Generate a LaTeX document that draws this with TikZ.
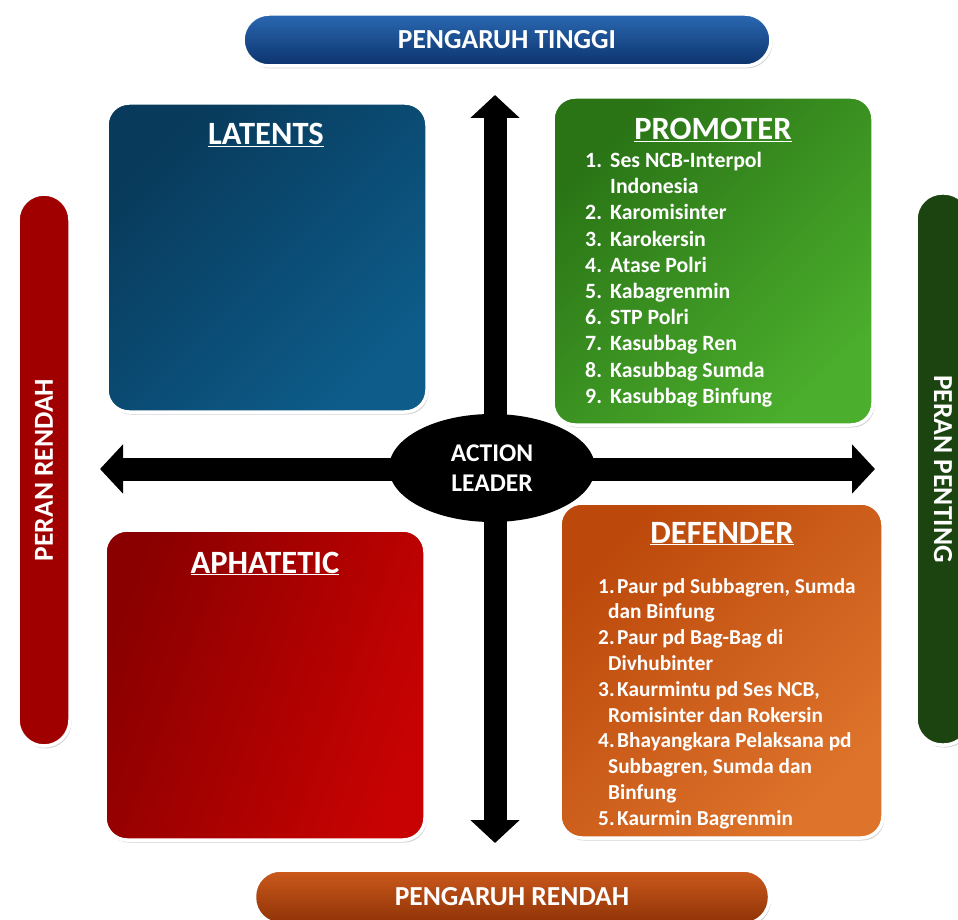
\documentclass[tikz,border=0pt]{standalone}
\usepackage{fontspec}
\setmainfont{Carlito}
\usetikzlibrary{arrows.meta,shapes.geometric,shadows}
\definecolor{latA}{HTML}{083A5B}
\definecolor{latB}{HTML}{0D5C8A}
\definecolor{proA}{HTML}{2A7416}
\definecolor{proB}{HTML}{4BAE2C}
\definecolor{aphA}{HTML}{8A0000}
\definecolor{aphB}{HTML}{C80202}
\definecolor{defA}{HTML}{BC490B}
\definecolor{defB}{HTML}{DE742C}
\definecolor{tinA}{HTML}{2A68B2}
\definecolor{tinM}{HTML}{1A4F98}
\definecolor{tinB}{HTML}{0C336C}
\definecolor{renA}{HTML}{CC5A1C}
\definecolor{renM}{HTML}{B44610}
\definecolor{renB}{HTML}{8E3206}
\definecolor{prA}{HTML}{A00000}
\definecolor{prM}{HTML}{C80E0E}
\definecolor{ppA}{HTML}{1B4410}
\definecolor{ppM}{HTML}{2E6420}
\begin{document}
\begin{tikzpicture}[x=1pt,y=-1pt,
  quad/.style={rectangle, rounded corners=22pt, draw=white, line width=3.5pt,
    drop shadow={shadow xshift=1.5pt,shadow yshift=-2.5pt,opacity=0.35}},
  pill/.style={rectangle, rounded corners=26pt, draw=white, line width=3.5pt,
    text=white, inner sep=0pt,
    drop shadow={shadow xshift=1.5pt,shadow yshift=-2.5pt,opacity=0.35}},
  pilltext/.style={font=\fontsize{27.5}{30}\selectfont\bfseries},
  ttl/.style={text=white, anchor=base, inner sep=0pt,
    font=\fontsize{32.5}{36}\selectfont\bfseries},
  lst/.style={text=white, anchor=north west, inner sep=0pt, align=left},
  bigarrow/.style={line width=23pt,
    {Triangle[length=23pt,width=48pt]}-{Triangle[length=23pt,width=48pt]}},
]
\useasboundingbox (0,0) rectangle (958,920);

% side pills
\node[pill, pilltext, top color=tinA, middle color=tinM, bottom color=tinB, minimum width=528pt, minimum height=52pt] (tinggi) at (507,40) {PENGARUH TINGGI};
\node[pill, pilltext, top color=renA, middle color=renM, bottom color=renB, minimum width=515pt, minimum height=54pt] (prendah) at (512,897) {PENGARUH RENDAH};
\node[pill, pilltext, top color=prA, middle color=prM, bottom color=prA, rotate=90, minimum width=552pt, minimum height=52pt] (rendah) at (44,470) {PERAN RENDAH};
\node[pill, pilltext, top color=ppA, middle color=ppM, bottom color=ppA, rotate=-90, minimum width=552pt, minimum height=54pt] (penting) at (943,469) {PERAN PENTING};

% quadrants
\node[quad, left color=latA, right color=latB, shading angle=45, minimum width=320pt, minimum height=309pt] (latents) at (267,257.5) {};
\node[quad, left color=proA, right color=proB, shading angle=45, minimum width=320pt, minimum height=328pt] (promoter) at (713,261) {};
\node[quad, left color=aphA, right color=aphB, shading angle=70, minimum width=320pt, minimum height=310pt] (aphatetic) at (265,685) {};
\node[quad, left color=defA, right color=defB, shading angle=45, minimum width=323pt, minimum height=335pt] (defender) at (721.5,670.5) {};

\node[ttl] (latT) at (266,145) {\underline{LATENTS}};
\node[ttl] (proT) at (713,140) {\underline{PROMOTER}};
\node[ttl] (aphT) at (265,573) {\underline{APHATETIC}};
\node[ttl] (defT) at (722,543) {\underline{DEFENDER}};

\node[lst, font=\fontsize{21.8}{26.2}\selectfont\bfseries] (proL) at (585,152) {%
\makebox[25pt][l]{1.}Ses NCB-Interpol\\
\hspace*{25pt}Indonesia\\
\makebox[25pt][l]{2.}Karomisinter\\
\makebox[25pt][l]{3.}Karokersin\\
\makebox[25pt][l]{4.}Atase Polri\\
\makebox[25pt][l]{5.}Kabagrenmin\\
\makebox[25pt][l]{6.}STP Polri\\
\makebox[25pt][l]{7.}Kasubbag Ren\\
\makebox[25pt][l]{8.}Kasubbag Sumda\\
\makebox[25pt][l]{9.}Kasubbag Binfung};

\node[lst, font=\fontsize{21.3}{25.8}\selectfont\bfseries] (defL) at (598,578) {%
\makebox[19pt][l]{1.}Paur pd Subbagren, Sumda\\
\hspace*{10pt}dan Binfung\\
\makebox[19pt][l]{2.}Paur pd Bag-Bag di\\
\hspace*{10pt}Divhubinter\\
\makebox[19pt][l]{3.}Kaurmintu pd Ses NCB,\\
\hspace*{10pt}Romisinter dan Rokersin\\
\makebox[19pt][l]{4.}Bhayangkara Pelaksana pd\\
\hspace*{10pt}Subbagren, Sumda dan\\
\hspace*{10pt}Binfung\\
\makebox[19pt][l]{5.}Kaurmin Bagrenmin};

% big arrows
\coordinate (vtop) at (495,95);
\coordinate (vbot) at (495,843);
\coordinate (hleft) at (100,469);
\coordinate (hright) at (875,469);
\draw[bigarrow] (vtop) -- (vbot);
\draw[bigarrow] (hleft) -- (hright);

\node[ellipse, fill=black, minimum width=206pt, minimum height=108pt, inner sep=0pt,
  text=white, align=center, font=\fontsize{25.5}{30}\selectfont\bfseries] (leader) at (492,468) {ACTION\\LEADER};
\end{tikzpicture}
\end{document}
